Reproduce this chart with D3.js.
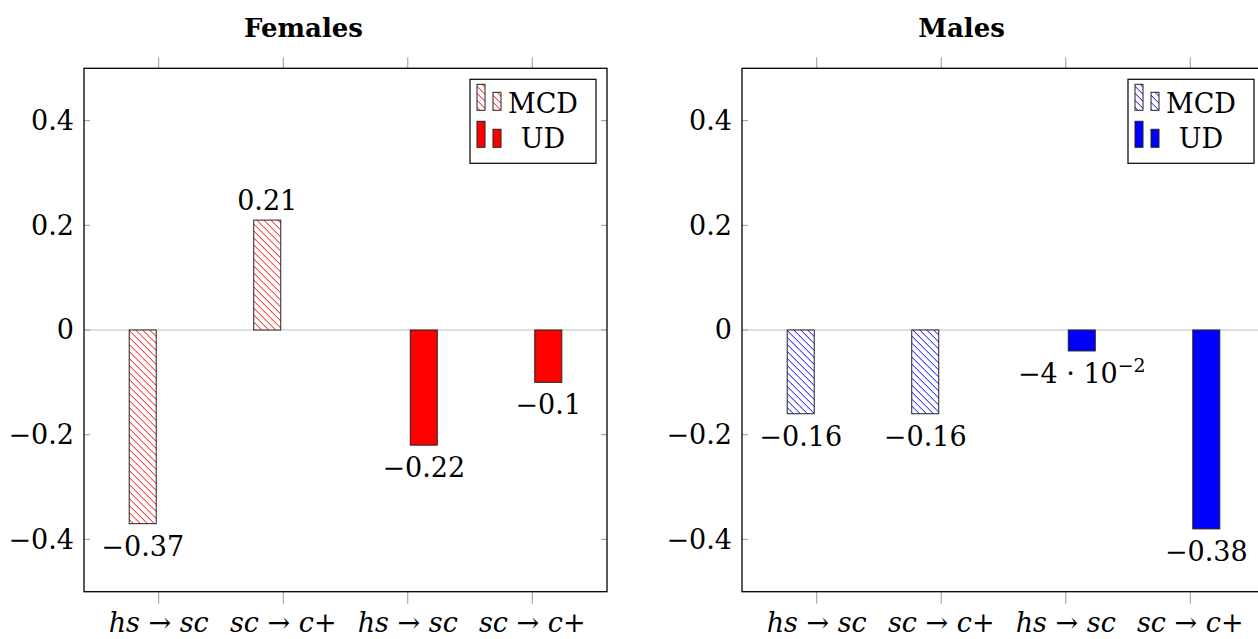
<!DOCTYPE html>
<html><head><meta charset="utf-8">
<script src="https://cdn.jsdelivr.net/npm/d3@7"></script>
<style>body{margin:0;background:#fff}svg{display:block}text{font-family:"DejaVu Serif",serif;fill:#000}</style>
</head><body><svg id="c" width="1258" height="639"></svg>
<script>
const categories = ["hs|sc", "sc|c+", "hs|sc", "sc|c+"];
const yTicks = [-0.4, -0.2, 0, 0.2, 0.4];
const femalesMCD = [-0.37, 0.21, null, null];
const femalesUD = [null, null, -0.22, -0.1];
const malesMCD = [-0.16, -0.16, null, null];
const malesUD = [null, null, -0.04, -0.38];
const panels = [
  {title: "Females", mcd: femalesMCD, ud: femalesUD, color: "#ff0000", id: "red"},
  {title: "Males", mcd: malesMCD, ud: malesUD, color: "#0000ff", id: "blue"}
];
const legendLabels = ["MCD", "UD"];

const svg = d3.select("#c");
const defs = svg.append("defs");
panels.forEach(p => {
  const pat = defs.append("pattern").attr("id", "hatch-" + p.id)
    .attr("patternUnits", "userSpaceOnUse").attr("width", 7).attr("height", 7);
  pat.append("rect").attr("width", 7).attr("height", 7).attr("fill", "#fff");
  pat.append("path").attr("d", "M-1,-1 L8,8 M-1,6 L1,8 M6,-1 L8,1")
    .attr("stroke", p.color).attr("stroke-width", 1);
});

const W = 523, H = 523.4;
const offsets = [84, 742];
const plotTop = 68.3;
const fs = 27;
const minus = s => s.replace("-", "\u2212");

function fmtLabel(t, v) {
  if (Math.abs(v) < 0.1) {
    const e = Math.floor(Math.log10(Math.abs(v)));
    const m = Math.round(v / Math.pow(10, e));
    t.append("tspan").text(minus(String(m)) + " \u00b7 10");
    t.append("tspan").attr("dy", -11).attr("font-size", fs * 0.7).text(minus(String(e)));
  } else {
    t.text(minus(d3.format(".2~f")(v)));
  }
}

panels.forEach((p, i) => {
  const g = svg.append("g").attr("transform", `translate(${offsets[i]},${plotTop})`);
  const x = d3.scalePoint().domain(d3.range(categories.length)).range([0, W]).padding(0.6);
  const y = d3.scaleLinear().domain([-0.5, 0.5]).range([H, 0]);
  const bw = 27, shift = 16;

  g.append("line").attr("x1", 0).attr("x2", W).attr("y1", y(0)).attr("y2", y(0))
    .attr("stroke", "#c0c0c0").attr("stroke-width", 1.2);

  yTicks.forEach(v => {
    g.append("line").attr("x1", 0).attr("x2", 6).attr("y1", y(v)).attr("y2", y(v)).attr("stroke", "#999");
    g.append("line").attr("x1", W - 6).attr("x2", W).attr("y1", y(v)).attr("y2", y(v)).attr("stroke", "#999");
    g.append("text").attr("x", -10).attr("y", y(v)).attr("text-anchor", "end")
      .attr("dominant-baseline", "central").attr("font-size", fs).text(minus(String(v)));
  });
  categories.forEach((c, k) => {
    const xx = x(k);
    g.append("line").attr("x1", xx).attr("x2", xx).attr("y1", 0).attr("y2", -11).attr("stroke", "#999");
    g.append("line").attr("x1", xx).attr("x2", xx).attr("y1", H).attr("y2", H + 12).attr("stroke", "#999");
    const [a, b] = c.split("|");
    const t = g.append("text").attr("x", xx).attr("y", H + 40).attr("text-anchor", "middle").attr("font-size", fs);
    t.append("tspan").attr("font-style", "italic").text(a);
    t.append("tspan").text(" \u2192 ");
    const bits = b.match(/^([a-z]+)(.*)$/);
    t.append("tspan").attr("font-style", "italic").text(bits[1]);
    if (bits[2]) t.append("tspan").text(bits[2]);
  });

  const series = [
    {vals: p.mcd, fill: `url(#hatch-${p.id})`, dx: -shift},
    {vals: p.ud, fill: p.color, dx: shift}
  ];
  series.forEach(s => {
    s.vals.forEach((v, k) => {
      if (v === null) return;
      const cx = x(k) + s.dx;
      g.append("rect").attr("x", cx - bw / 2).attr("width", bw)
        .attr("y", Math.min(y(v), y(0))).attr("height", Math.abs(y(v) - y(0)))
        .attr("fill", s.fill).attr("stroke", "#222").attr("stroke-width", 1);
      const t = g.append("text").attr("x", cx).attr("text-anchor", "middle").attr("font-size", fs)
        .attr("y", v < 0 ? y(v) + 32 : y(v) - 10);
      fmtLabel(t, v);
    });
  });

  g.append("rect").attr("x", 0).attr("y", 0).attr("width", W).attr("height", H)
    .attr("fill", "none").attr("stroke", "#000").attr("stroke-width", 1.3);

  g.append("text").attr("x", W / 2 - 42).attr("y", -31).attr("text-anchor", "middle")
    .attr("font-size", 26).attr("font-weight", "bold").text(p.title);

  const lx = W - 11 - 126, ly = 11;
  const lg = g.append("g").attr("transform", `translate(${lx},${ly})`);
  lg.append("rect").attr("width", 126).attr("height", 84).attr("fill", "#fff").attr("stroke", "#000").attr("stroke-width", 1.2);
  legendLabels.forEach((lab, r) => {
    const fill = r === 0 ? `url(#hatch-${p.id})` : p.color;
    const baseY = r === 0 ? 31 : 68;
    lg.append("rect").attr("x", 7).attr("y", baseY - 26).attr("width", 8).attr("height", 26)
      .attr("fill", fill).attr("stroke", "#222").attr("stroke-width", 1);
    lg.append("rect").attr("x", 23).attr("y", baseY - 18).attr("width", 8).attr("height", 18)
      .attr("fill", fill).attr("stroke", "#222").attr("stroke-width", 1);
    lg.append("text").attr("x", 73).attr("y", (r === 0 ? 24 : 59)).attr("text-anchor", "middle")
      .attr("dominant-baseline", "central").attr("font-size", fs).text(lab);
  });
});
</script></body></html>
